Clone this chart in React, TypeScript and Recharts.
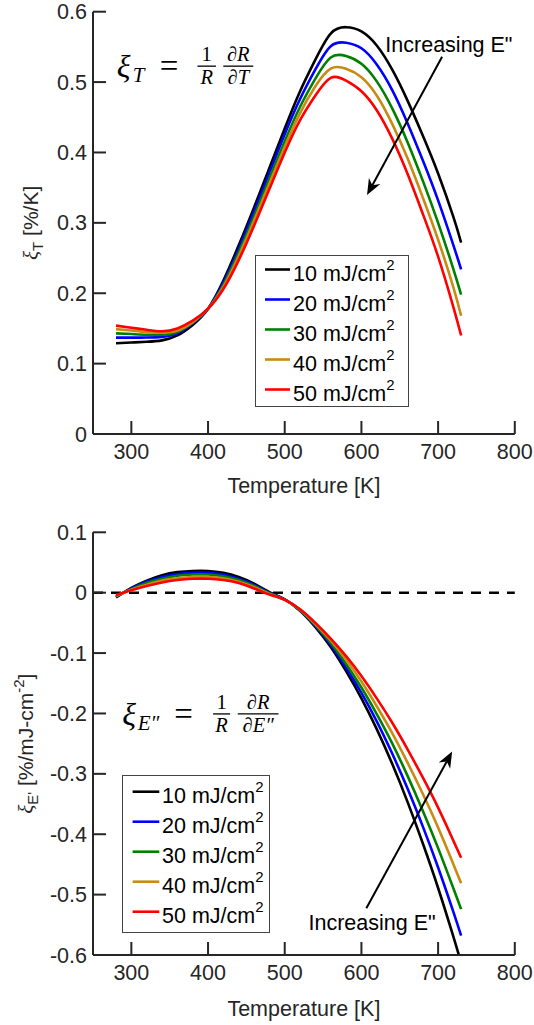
import React from "react";
import { LineChart, Line, XAxis, YAxis, ReferenceLine, ReferenceDot, Legend } from "recharts";

// temperatures [K] shared by both panels
const temps = [280, 300, 320, 340, 360, 380, 400, 420, 440, 460, 480, 500, 520, 540, 560, 580, 600, 620, 640, 660, 680, 700, 720, 730];

// top panel: xi_T [%/K]
const xiT10 = [0.129, 0.130, 0.131, 0.133, 0.140, 0.155, 0.178, 0.218, 0.268, 0.322, 0.378, 0.434, 0.487, 0.532, 0.569, 0.578, 0.572, 0.552, 0.518, 0.474, 0.424, 0.370, 0.308, 0.272];
const xiT20 = [0.137, 0.137, 0.137, 0.138, 0.143, 0.157, 0.178, 0.215, 0.263, 0.316, 0.371, 0.426, 0.476, 0.518, 0.551, 0.556, 0.548, 0.525, 0.489, 0.442, 0.389, 0.332, 0.268, 0.234];
const xiT30 = [0.143, 0.142, 0.141, 0.141, 0.145, 0.158, 0.178, 0.212, 0.258, 0.309, 0.363, 0.416, 0.465, 0.505, 0.535, 0.537, 0.526, 0.501, 0.463, 0.415, 0.360, 0.300, 0.234, 0.198];
const xiT40 = [0.149, 0.147, 0.145, 0.144, 0.147, 0.159, 0.178, 0.209, 0.253, 0.303, 0.356, 0.408, 0.456, 0.494, 0.519, 0.519, 0.507, 0.481, 0.441, 0.392, 0.336, 0.276, 0.208, 0.168];
const xiT50 = [0.154, 0.151, 0.148, 0.146, 0.150, 0.161, 0.178, 0.206, 0.247, 0.296, 0.348, 0.400, 0.446, 0.481, 0.506, 0.502, 0.487, 0.460, 0.420, 0.370, 0.313, 0.252, 0.180, 0.140];

// bottom panel: xi_E'' [%/mJ-cm^-2]
const xiE10 = [-0.008, 0.008, 0.020, 0.029, 0.034, 0.036, 0.036, 0.033, 0.026, 0.015, 0.001, -0.011, -0.030, -0.057, -0.090, -0.130, -0.175, -0.226, -0.283, -0.346, -0.415, -0.489, -0.570, -0.613];
const xiE20 = [-0.007, 0.007, 0.018, 0.026, 0.031, 0.033, 0.033, 0.030, 0.023, 0.013, 0.000, -0.011, -0.0295, -0.055, -0.086, -0.124, -0.166, -0.213, -0.266, -0.324, -0.387, -0.455, -0.529, -0.568];
const xiE30 = [-0.006, 0.006, 0.016, 0.023, 0.028, 0.030, 0.030, 0.027, 0.021, 0.011, -0.001, -0.0115, -0.029, -0.0535, -0.083, -0.118, -0.157, -0.201, -0.249, -0.303, -0.361, -0.423, -0.490, -0.524];
const xiE40 = [-0.005, 0.005, 0.013, 0.020, 0.024, 0.026, 0.026, 0.024, 0.018, 0.009, -0.002, -0.012, -0.028, -0.052, -0.079, -0.111, -0.147, -0.188, -0.232, -0.281, -0.333, -0.389, -0.450, -0.481];
const xiE50 = [-0.004, 0.004, 0.011, 0.017, 0.021, 0.023, 0.023, 0.021, 0.016, 0.007, -0.003, -0.012, -0.0275, -0.050, -0.076, -0.105, -0.138, -0.175, -0.215, -0.259, -0.306, -0.356, -0.411, -0.439];

const fluences = ["10", "20", "30", "40", "50"];
const colors = ["#000000", "#0000ff", "#008000", "#c98a12", "#ff0000"];

const xTicks = [300, 400, 500, 600, 700, 800];
const yTicksTop = [0, 0.1, 0.2, 0.3, 0.4, 0.5, 0.6];
const yTicksBottom = [-0.6, -0.5, -0.4, -0.3, -0.2, -0.1, 0, 0.1];

const AXIS = "#262626";
const FONT = "'Liberation Sans', Arial, Helvetica, sans-serif";
const SERIF = "'Liberation Serif', 'Times New Roman', serif";

const topRows = temps.map((t, i) => ({ t, s0: xiT10[i], s1: xiT20[i], s2: xiT30[i], s3: xiT40[i], s4: xiT50[i] }));
const bottomRows = temps.map((t, i) => ({ t, s0: xiE10[i], s1: xiE20[i], s2: xiE30[i], s3: xiE40[i], s4: xiE50[i] }));

const fmt = (v: number) => {
  const r = Math.round(v * 10) / 10;
  return r === 0 ? "0" : r.toFixed(1);
};

const tickStyle = { fill: AXIS, fontSize: 21.5, fontFamily: FONT };
const axisLine = { stroke: AXIS, strokeWidth: 2 };
const tickLine = { stroke: AXIS, strokeWidth: 2 };

function Arrow(props: any) {
  const { x1, y1, x2, y2 } = props;
  const dx = x2 - x1;
  const dy = y2 - y1;
  const len = Math.hypot(dx, dy) || 1;
  const ux = dx / len;
  const uy = dy / len;
  const nx = -uy;
  const ny = ux;
  const hl = 16;
  const hw = 6.5;
  const bx = x2 - ux * hl;
  const by = y2 - uy * hl;
  const kx = x2 - ux * hl * 0.7;
  const ky = y2 - uy * hl * 0.7;
  return (
    <g>
      <line x1={x1} y1={y1} x2={kx} y2={ky} stroke="#000" strokeWidth={2} />
      <path d={`M${x2},${y2} L${bx + nx * hw},${by + ny * hw} L${kx},${ky} L${bx - nx * hw},${by - ny * hw} Z`} fill="#000" />
    </g>
  );
}

const arrowLabel = (p: any) => (
  <text x={p.cx} y={p.cy} fontSize={21.5} fontFamily={FONT} fill="#000">
    {'Increasing E"'}
  </text>
);

// fraction: numerator / bar / denominator centred on cx, bar at y0 - 11
function Frac({ cx, y0, w, num, den }: { cx: number; y0: number; w: number; num: React.ReactNode; den: React.ReactNode }) {
  return (
    <g>
      <text x={cx} y={y0 - 16} fontSize={20.5} textAnchor="middle">{num}</text>
      <line x1={cx - w / 2} x2={cx + w / 2} y1={y0 - 11} y2={y0 - 11} stroke="#000" strokeWidth={1.3} />
      <text x={cx} y={y0 + 7} fontSize={20.5} fontStyle="italic" textAnchor="middle">{den}</text>
    </g>
  );
}

function FormulaT(p: any) {
  const x0 = p.cx;
  const y0 = p.cy;
  return (
    <g fontFamily={SERIF} fill="#000">
      <text x={x0} y={y0} fontSize={32} fontStyle="italic">ξ</text>
      <text x={x0 + 16} y={y0 + 5} fontSize={21} fontStyle="italic">T</text>
      <text x={x0 + 43} y={y0} fontSize={33}>=</text>
      <Frac cx={x0 + 90} y0={y0} w={18.5} num="1" den="R" />
      <Frac cx={x0 + 121.6} y0={y0} w={30} num={<tspan fontStyle="italic">∂R</tspan>} den="∂T" />
    </g>
  );
}

function FormulaE(p: any) {
  const x0 = p.cx;
  const y0 = p.cy;
  return (
    <g fontFamily={SERIF} fill="#000">
      <text x={x0} y={y0} fontSize={32} fontStyle="italic">ξ</text>
      <text x={x0 + 15.5} y={y0 + 5} fontSize={21} fontStyle="italic">E″</text>
      <text x={x0 + 52} y={y0} fontSize={33}>=</text>
      <Frac cx={x0 + 99.4} y0={y0} w={17} num="1" den="R" />
      <Frac cx={x0 + 135.9} y0={y0} w={40.7} num={<tspan fontStyle="italic">∂R</tspan>} den="∂E″" />
    </g>
  );
}

function LegendBox({ w, h, first, lineX, textX }: { w: number; h: number; first: number; lineX: number[]; textX: number }) {
  return (
    <svg width={w} height={h} style={{ display: "block" }}>
      <rect x={0.5} y={0.5} width={w - 1} height={h - 1} fill="#fff" stroke="#444" strokeWidth={1} />
      {fluences.map((f, i) => {
        const y = first + i * 30;
        return (
          <g key={f}>
            <line x1={lineX[0]} x2={lineX[1]} y1={y} y2={y} stroke={colors[i]} strokeWidth={2.6} />
            <text x={textX} y={y + 11.7} fontSize={21.5} fontFamily={FONT} fill="#000">
              {f} mJ/cm
              <tspan fontSize={15} dy={-11}>2</tspan>
            </text>
          </g>
        );
      })}
    </svg>
  );
}

const xLabel = (dy: number) => (props: any) => {
  const vb = props.viewBox || {};
  return (
    <text x={vb.x + vb.width / 2} y={vb.y + dy} textAnchor="middle" fontSize={21.5} fontFamily={FONT} fill={AXIS}>
      Temperature [K]
    </text>
  );
};

const yLabelTop = (props: any) => {
  const vb = props.viewBox || {};
  const x = vb.x + 5;
  const y = vb.y + vb.height / 2;
  return (
    <text x={x} y={y} transform={`rotate(-90 ${x} ${y})`} textAnchor="middle" fontSize={21} fontFamily={FONT} fill={AXIS}>
      <tspan fontFamily={SERIF} fontStyle="italic">ξ</tspan>
      <tspan fontSize={15} dy={5}>T</tspan>
      <tspan dy={-5}> [%/K]</tspan>
    </text>
  );
};

const yLabelBottom = (props: any) => {
  const vb = props.viewBox || {};
  const x = vb.x;
  const y = vb.y + vb.height / 2;
  return (
    <text x={x} y={y} transform={`rotate(-90 ${x} ${y})`} textAnchor="middle" fontSize={21} fontFamily={FONT} fill={AXIS}>
      <tspan fontFamily={SERIF} fontStyle="italic">ξ</tspan>
      <tspan fontSize={15} dy={5}>E'</tspan>
      <tspan dy={-5}> [%/mJ-cm</tspan>
      <tspan fontSize={15} dy={-9}>-2</tspan>
      <tspan dy={9}>]</tspan>
    </text>
  );
};

function series() {
  return fluences.map((f, i) => (
    <Line
      key={f}
      dataKey={"s" + i}
      name={f + " mJ/cm2"}
      type="natural"
      stroke={colors[i]}
      strokeWidth={2.6}
      dot={false}
      activeDot={false}
      isAnimationActive={false}
    />
  ));
}

export default function App() {
  return (
    <div style={{ position: "absolute", left: 0, top: 0, width: 534, height: 1025, background: "#fff" }}>
      <div style={{ position: "absolute", left: 0, top: 0 }}>
        <LineChart width={534} height={512} data={topRows} margin={{ top: 11.7, right: 19.2, left: 33, bottom: 18 }}>
          <XAxis dataKey="t" type="number" domain={[250, 800]} ticks={xTicks} interval={0} height={60}
            tickSize={-13} tickMargin={23} tick={tickStyle} axisLine={axisLine} tickLine={tickLine} label={xLabel(59)} />
          <XAxis xAxisId="top" orientation="top" type="number" domain={[250, 800]} ticks={xTicks} interval={0}
            height={0} tickSize={-13} tick={false} axisLine={axisLine} tickLine={tickLine} />
          <YAxis type="number" domain={[0, 0.6]} ticks={yTicksTop} interval={0} width={60} allowDataOverflow
            tickFormatter={fmt} tickSize={-13} tickMargin={19} tick={tickStyle} axisLine={axisLine} tickLine={tickLine} label={yLabelTop} />
          <YAxis yAxisId="right" orientation="right" type="number" domain={[0, 0.6]} ticks={yTicksTop} interval={0}
            width={0} tickSize={-13} tick={false} axisLine={axisLine} tickLine={tickLine} />
          {series()}
          <ReferenceDot x={280.9} y={0.507} r={0} ifOverflow="visible" shape={FormulaT} />
          <ReferenceDot x={631.2} y={0.5433} r={0} ifOverflow="visible" shape={arrowLabel} />
          <ReferenceLine segment={[{ x: 705.2, y: 0.536 }, { x: 607.3, y: 0.3395 }]} ifOverflow="visible" shape={Arrow} />
          <Legend layout="vertical" align="center" verticalAlign="middle"
            wrapperStyle={{ left: 255, top: 255, width: 154, height: 152 }}
            content={() => <LegendBox w={154} h={152} first={14.5} lineX={[10, 35]} textX={38} />} />
        </LineChart>
      </div>
      <div style={{ position: "absolute", left: 0, top: 512 }}>
        <LineChart width={534} height={513} data={bottomRows} margin={{ top: 20.3, right: 19.2, left: 33, bottom: 10 }}>
          <XAxis dataKey="t" type="number" domain={[250, 800]} ticks={xTicks} interval={0} height={60}
            tickSize={-13} tickMargin={23} tick={tickStyle} axisLine={axisLine} tickLine={tickLine} label={xLabel(61)} />
          <XAxis xAxisId="top" orientation="top" type="number" domain={[250, 800]} ticks={xTicks} interval={0}
            height={0} tickSize={-13} tick={false} axisLine={axisLine} tickLine={tickLine} />
          <YAxis type="number" domain={[-0.6, 0.1]} ticks={yTicksBottom} interval={0} width={60} allowDataOverflow
            tickFormatter={fmt} tickSize={-13} tickMargin={19} tick={tickStyle} axisLine={axisLine} tickLine={tickLine} label={yLabelBottom} />
          <YAxis yAxisId="right" orientation="right" type="number" domain={[-0.6, 0.1]} ticks={yTicksBottom} interval={0}
            width={0} tickSize={-13} tick={false} axisLine={axisLine} tickLine={tickLine} />
          <ReferenceLine y={0} stroke="#000" strokeWidth={2.4} strokeDasharray="10 8" />
          {series()}
          <ReferenceDot x={288.1} y={-0.219} r={0} ifOverflow="visible" shape={FormulaE} />
          <ReferenceDot x={531} y={-0.5593} r={0} ifOverflow="visible" shape={arrowLabel} />
          <ReferenceLine segment={[{ x: 606.4, y: -0.5225 }, { x: 718.3, y: -0.2632 }]} ifOverflow="visible" shape={Arrow} />
          <Legend layout="vertical" align="center" verticalAlign="middle"
            wrapperStyle={{ left: 121.7, top: 263, width: 148, height: 158 }}
            content={() => <LegendBox w={148} h={158} first={16.7} lineX={[10.6, 37.3]} textX={40} />} />
        </LineChart>
      </div>
    </div>
  );
}
